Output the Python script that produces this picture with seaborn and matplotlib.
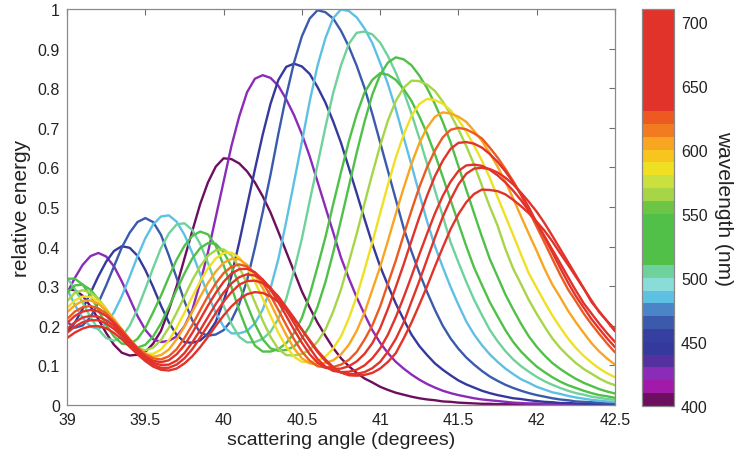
import numpy as np
import pandas as pd
import seaborn as sns
import matplotlib
matplotlib.use("Agg")
import matplotlib.pyplot as plt
from matplotlib.colors import ListedColormap, Normalize
from matplotlib.ticker import FuncFormatter

# scattering angle samples (degrees), 39.00 .. 42.50 every 0.05
angles = np.round(np.linspace(39.0, 42.5, 71), 2)

# relative energy, one list per wavelength (nm)
e400 = [.292, .290, .276, .249, .217, .182, .152, .132, .125, .127,
        .134, .155, .187, .240, .300, .370, .439, .507, .562, .602,
        .623, .621, .610, .590, .562, .527, .486, .437, .387, .337,
        .287, .246, .208, .175, .144, .118, .098, .081, .067, .057,
        .046, .038, .031, .026, .021, .017, .014, .012, .009, .008,
        .006, .005, .004, .003, .003, .002, .002, .002, .001, .001,
        .001, .001, .001, .001, .001, .001, .001, .001, .001, .001,
        .001]
e420 = [.282, .321, .354, .376, .384, .375, .350, .312, .269, .225,
        .190, .166, .159, .162, .173, .199, .240, .308, .385, .474,
        .564, .654, .729, .790, .824, .833, .826, .806, .772, .732,
        .684, .628, .564, .500, .436, .372, .320, .272, .229, .189,
        .157, .131, .109, .092, .077, .064, .053, .044, .036, .030,
        .025, .021, .017, .014, .012, .010, .008, .006, .005, .004,
        .004, .003, .003, .002, .002, .002, .001, .001, .001, .001,
        .001]
e440 = [.186, .208, .243, .283, .325, .362, .389, .401, .397, .377,
        .341, .298, .251, .209, .177, .159, .157, .163, .180, .210,
        .262, .326, .411, .503, .595, .683, .761, .821, .854, .862,
        .855, .836, .803, .764, .716, .662, .599, .535, .470, .407,
        .350, .302, .256, .216, .178, .149, .126, .105, .089, .075,
        .062, .052, .044, .036, .030, .025, .021, .017, .015, .012,
        .010, .008, .007, .005, .005, .004, .003, .003, .003, .002,
        .002]
e460 = [.210, .195, .201, .222, .258, .302, .350, .398, .435, .462,
        .472, .462, .430, .378, .321, .262, .214, .183, .175, .178,
        .189, .214, .255, .315, .397, .487, .582, .685, .781, .865,
        .931, .976, .997, .992, .976, .945, .905, .857, .801, .735,
        .663, .591, .519, .447, .388, .334, .285, .240, .200, .168,
        .142, .120, .102, .086, .072, .061, .051, .043, .036, .030,
        .025, .021, .017, .014, .012, .009, .008, .007, .006, .005,
        .004]
e480 = [.293, .253, .220, .198, .192, .205, .234, .275, .324, .375,
        .421, .456, .476, .479, .463, .430, .384, .331, .278, .233,
        .198, .181, .181, .187, .206, .241, .295, .369, .463, .563,
        .664, .767, .857, .926, .977, .999, .995, .979, .951, .914,
        .864, .810, .747, .676, .606, .534, .463, .401, .348, .298,
        .253, .211, .178, .151, .128, .109, .092, .078, .065, .056,
        .046, .039, .032, .028, .023, .019, .016, .013, .011, .009,
        .008]
e500 = [.321, .293, .258, .222, .191, .169, .162, .172, .200, .242,
        .293, .346, .396, .433, .456, .459, .442, .407, .359, .305,
        .251, .205, .172, .158, .159, .167, .185, .218, .268, .339,
        .420, .515, .607, .701, .788, .858, .912, .940, .943, .936,
        .915, .881, .839, .792, .736, .674, .609, .542, .477, .411,
        .360, .311, .266, .227, .190, .161, .136, .115, .098, .084,
        .071, .060, .051, .043, .036, .030, .026, .021, .018, .015,
        .013]
e520 = [.319, .319, .304, .276, .240, .202, .173, .155, .153, .167,
        .194, .234, .276, .323, .367, .402, .427, .438, .431, .402,
        .353, .298, .239, .188, .150, .135, .135, .141, .156, .182,
        .220, .278, .349, .423, .507, .588, .666, .734, .789, .821,
        .838, .834, .821, .798, .768, .729, .685, .633, .576, .517,
        .459, .401, .347, .303, .260, .224, .189, .159, .135, .115,
        .097, .083, .070, .059, .050, .043, .036, .030, .025, .022,
        .018]
e540 = [.283, .302, .304, .291, .267, .235, .201, .172, .152, .145,
        .152, .173, .206, .247, .291, .332, .370, .396, .409, .407,
        .386, .350, .304, .253, .205, .166, .143, .137, .139, .148,
        .168, .200, .248, .310, .385, .467, .552, .637, .715, .784,
        .834, .865, .878, .873, .858, .832, .800, .760, .715, .663,
        .603, .544, .484, .425, .369, .324, .279, .241, .205, .173,
        .147, .125, .106, .091, .078, .066, .056, .048, .040, .034,
        .029]
e560 = [.262, .283, .290, .284, .268, .243, .214, .185, .160, .144,
        .138, .145, .164, .195, .233, .274, .315, .350, .377, .391,
        .393, .378, .348, .306, .260, .213, .172, .141, .126, .125,
        .129, .139, .160, .190, .236, .292, .361, .432, .509, .584,
        .655, .719, .768, .801, .819, .818, .809, .793, .766, .734,
        .696, .654, .607, .554, .501, .453, .394, .344, .305, .265,
        .230, .198, .168, .144, .124, .106, .091, .079, .067, .057,
        .050]
e580 = [.245, .264, .274, .273, .262, .242, .215, .188, .162, .141,
        .130, .129, .140, .163, .195, .233, .273, .312, .345, .370,
        .384, .385, .372, .347, .311, .269, .225, .182, .147, .122,
        .109, .108, .112, .122, .143, .173, .219, .274, .341, .411,
        .484, .557, .625, .683, .730, .760, .773, .770, .761, .744,
        .720, .690, .655, .617, .574, .525, .477, .429, .380, .332,
        .296, .260, .226, .196, .168, .144, .124, .107, .092, .080,
        .070]
e600 = [.234, .252, .263, .264, .256, .239, .217, .191, .166, .144,
        .129, .122, .126, .140, .166, .198, .235, .273, .308, .337,
        .359, .369, .368, .354, .329, .295, .257, .216, .177, .143,
        .118, .105, .103, .106, .113, .128, .152, .187, .233, .291,
        .349, .415, .483, .548, .609, .661, .701, .728, .739, .736,
        .728, .715, .692, .667, .636, .602, .564, .521, .476, .432,
        .389, .344, .304, .272, .238, .209, .182, .156, .135, .117,
        .102]
e620 = [.217, .236, .247, .250, .244, .231, .211, .190, .166, .145,
        .128, .118, .115, .123, .141, .169, .202, .239, .275, .307,
        .333, .349, .355, .350, .334, .309, .276, .240, .202, .166,
        .135, .112, .098, .095, .096, .102, .114, .134, .165, .201,
        .249, .307, .365, .429, .491, .550, .601, .643, .676, .695,
        .700, .696, .686, .673, .650, .625, .596, .565, .530, .490,
        .450, .410, .369, .329, .292, .262, .231, .204, .179, .155,
        .133]
e640 = [.207, .225, .236, .240, .236, .225, .207, .185, .163, .141,
        .123, .112, .108, .113, .128, .151, .182, .216, .251, .283,
        .311, .332, .343, .344, .335, .317, .291, .260, .225, .190,
        .157, .128, .107, .094, .091, .092, .098, .110, .129, .156,
        .194, .243, .298, .355, .415, .474, .529, .578, .617, .647,
        .662, .664, .660, .650, .634, .614, .590, .562, .532, .499,
        .460, .423, .385, .346, .309, .275, .246, .217, .192, .168,
        .146]
e660 = [.192, .209, .221, .225, .223, .214, .199, .180, .158, .138,
        .120, .107, .101, .102, .112, .131, .158, .189, .222, .255,
        .284, .307, .323, .330, .327, .316, .296, .270, .239, .207,
        .174, .144, .116, .097, .086, .083, .084, .089, .100, .118,
        .143, .178, .222, .272, .325, .380, .433, .484, .528, .564,
        .591, .605, .607, .604, .594, .580, .562, .541, .517, .490,
        .460, .426, .392, .358, .323, .289, .257, .231, .205, .181,
        .159]
e680 = [.182, .198, .209, .214, .214, .206, .192, .174, .154, .133,
        .116, .102, .094, .094, .102, .118, .141, .170, .201, .232,
        .261, .285, .304, .313, .314, .308, .294, .274, .247, .220,
        .191, .161, .134, .111, .093, .082, .078, .079, .083, .093,
        .109, .135, .167, .208, .261, .313, .368, .423, .475, .519,
        .557, .584, .597, .599, .596, .587, .574, .557, .536, .513,
        .488, .459, .427, .394, .361, .328, .295, .260, .236, .211,
        .186]
e700 = [.169, .183, .193, .199, .199, .194, .182, .166, .147, .128,
        .111, .097, .089, .087, .092, .105, .123, .146, .172, .200,
        .226, .249, .267, .280, .285, .283, .274, .260, .240, .216,
        .190, .164, .137, .115, .096, .082, .075, .074, .076, .081,
        .092, .109, .131, .168, .208, .253, .300, .350, .398, .444,
        .482, .512, .533, .544, .543, .540, .532, .518, .502, .484,
        .463, .440, .413, .383, .354, .324, .294, .264, .234, .212,
        .191]

wavelengths = [400, 420, 440, 460, 480, 500, 520, 540,
               560, 580, 600, 620, 640, 660, 680, 700]
series = [e400, e420, e440, e460, e480, e500, e520, e540,
          e560, e580, e600, e620, e640, e660, e680, e700]

# colour bands of the colour bar, 10 nm each from 400 to 710 nm
band_colors = [
    "#6c0f5f", "#a21aaa", "#8a2cb8", "#55309f", "#35389c", "#343f9f",
    "#3b5aab", "#4a86c7", "#5ec0e3", "#8adcd8", "#6fd19c", "#50c048",
    "#50c048", "#50c048", "#50c048", "#6cc545", "#a6d647", "#c9e03e",
    "#f0e024", "#f8c41e", "#f8a622", "#f27b22", "#ec5a22", "#e1332a",
    "#e1332a", "#e1332a", "#e1332a", "#e1332a", "#e1332a", "#e1332a",
    "#e1332a",
]
cmap = ListedColormap(band_colors)
norm = Normalize(400, 710)

frames = []
for wl, vals in zip(wavelengths, series):
    frames.append(pd.DataFrame({"angle": angles, "energy": vals, "wavelength": wl}))
df = pd.concat(frames, ignore_index=True)
palette = {wl: band_colors[(wl - 400) // 10] for wl in wavelengths}

sns.set_style("white")
plt.rcParams["font.family"] = ["Liberation Sans", "DejaVu Sans"]

fig = plt.figure(figsize=(7.48, 4.64), dpi=100)
ax = fig.add_axes([0.0896, 0.125, 0.7326, 0.8534])

sns.lineplot(data=df, x="angle", y="energy", hue="wavelength", palette=palette,
             linewidth=1.7, legend=False, ax=ax, sort=False)

ax.set_xlim(39, 42.5)
ax.set_ylim(0, 1)
ax.set_xticks([39, 39.5, 40, 40.5, 41, 41.5, 42, 42.5])
ax.set_yticks(np.arange(0, 1.01, 0.1))
fmt = FuncFormatter(lambda v, p: f"{v:g}")
ax.xaxis.set_major_formatter(fmt)
ax.yaxis.set_major_formatter(fmt)
ax.tick_params(direction="in", length=4, width=0.8, color="#707070",
               top=True, right=True, labelsize=11.5, labelcolor="#222222", pad=5)
for sp in ax.spines.values():
    sp.set_color("#8a8a8a")
    sp.set_linewidth(0.9)
ax.set_xlabel("scattering angle (degrees)", fontsize=14, color="#222222", labelpad=3)
ax.set_ylabel("relative energy", fontsize=15, color="#222222", labelpad=5)

cax = fig.add_axes([0.858, 0.123, 0.043, 0.856])
sm = plt.cm.ScalarMappable(norm=norm, cmap=cmap)
cb = fig.colorbar(sm, cax=cax, ticks=[400, 450, 500, 550, 600, 650, 700])
cb.outline.set_edgecolor("#8a8a8a")
cb.outline.set_linewidth(0.9)
cax.tick_params(direction="in", length=3, width=0.8, color="#444444",
                labelsize=11.5, labelcolor="#222222", pad=5)
cb.set_label("wavelength (nm)", rotation=270, fontsize=15, color="#222222", labelpad=18)

fig.savefig("out.png", dpi=100)
